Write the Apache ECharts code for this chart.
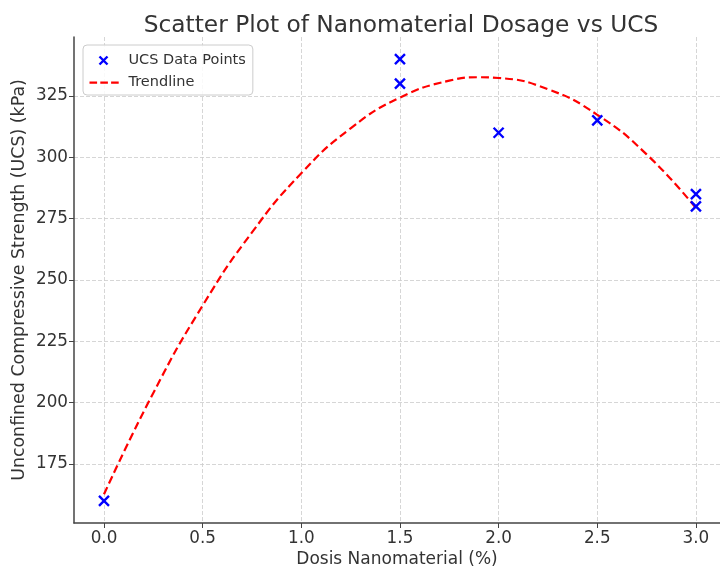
<!DOCTYPE html>
<html>
<head>
<meta charset="utf-8">
<script src="https://cdn.jsdelivr.net/npm/echarts@6/dist/echarts.min.js"></script>
<style>html,body{margin:0;padding:0;background:#fff;}#c{width:720px;height:571px;}</style>
</head>
<body>
<div id="c"></div>
<script>
// Data
const dosage = [0.0, 1.5, 1.5, 2.0, 2.5, 3.0, 3.0];
const ucs = [160, 340, 330, 310, 315, 285, 280];
// Trendline points
const trendX = [0.0, 0.25, 0.5, 0.75, 1.0, 1.25, 1.5, 1.75, 1.9, 2.0, 2.25, 2.5, 2.75, 3.0];
const trendY = [162.7, 204.0, 239.6, 269.4, 293.5, 311.8, 324.3, 331.2, 332.6, 332.3, 327.7, 317.3, 301.2, 279.3];
const xTicks = [0.0, 0.5, 1.0, 1.5, 2.0, 2.5, 3.0];
const yTicks = [175, 200, 225, 250, 275, 300, 325];

const font = 'DejaVu Sans';
const txt = '#333333';
const scatterData = dosage.map((x, i) => [x, ucs[i]]);
const trendData = trendX.map((x, i) => [x, trendY[i]]);
const xMark = 'path://M0,0 L10,10 M10,0 L0,10';
// legend icons: bounding box 34x14 fixed by leading moveTo points
const legendX = 'path://M0,0 M34,14 M10,3 L18,11 M18,3 L10,11';
const legendDash = 'path://M0,0 M34,14 M0,6h7.6v2.2h-7.6z M10.8,6h7.6v2.2h-7.6z M21.6,6h7.6v2.2h-7.6z';

const chart = echarts.init(document.getElementById('c'), null, {renderer: 'canvas'});
chart.setOption({
  animation: false,
  backgroundColor: '#ffffff',
  textStyle: {fontFamily: font},
  title: {
    text: 'Scatter Plot of Nanomaterial Dosage vs UCS',
    left: 396, top: 9, textAlign: 'center',
    textStyle: {fontFamily: font, fontSize: 23.3, fontWeight: 'normal', color: txt}
  },
  legend: {
    orient: 'vertical', left: 83, top: 45,
    backgroundColor: 'rgba(255,255,255,0.85)', borderColor: '#cccccc', borderWidth: 1, borderRadius: 4,
    padding: [6, 7, 5, 4], itemGap: 5, itemWidth: 34, itemHeight: 14,
    textStyle: {fontFamily: font, fontSize: 14.5, color: txt},
    data: [
      {name: 'UCS Data Points', icon: legendX, itemStyle: {color: 'none', borderColor: '#0000ff', borderWidth: 2.4}},
      {name: 'Trendline', icon: legendDash, itemStyle: {color: '#ff0000', borderWidth: 0}, lineStyle: {width: 0, opacity: 0}}
    ]
  },
  grid: {left: 74, top: 37, right: 0, bottom: 48, containLabel: false, outerBoundsMode: 'none'},
  xAxis: {
    type: 'value', min: -0.152, max: 3.122,
    name: 'Dosis Nanomaterial (%)', nameLocation: 'middle', nameGap: 28, nameMoveOverlap: false,
    nameTextStyle: {fontFamily: font, fontSize: 17, color: txt},
    axisLine: {show: true, onZero: false, lineStyle: {color: '#444', width: 1.5}},
    axisTick: {show: true, length: 5, customValues: xTicks, lineStyle: {color: '#444'}},
    axisLabel: {customValues: xTicks, formatter: v => v.toFixed(1), fontFamily: font, fontSize: 16.8, color: txt, margin: 7},
    splitLine: {show: true, lineStyle: {color: '#cccccc', type: [4, 2], width: 0.8}}
  },
  yAxis: {
    type: 'value', min: 151, max: 349,
    name: 'Unconfined Compressive Strength (UCS) (kPa)', nameLocation: 'middle', nameGap: 46, nameMoveOverlap: false,
    nameTextStyle: {fontFamily: font, fontSize: 17.4, color: txt},
    axisLine: {show: true, onZero: false, lineStyle: {color: '#444', width: 1.5}},
    axisTick: {show: true, length: 5, customValues: yTicks, lineStyle: {color: '#444'}},
    axisLabel: {customValues: yTicks, fontFamily: font, fontSize: 16.8, color: txt, margin: 6},
    splitLine: {show: true, lineStyle: {color: '#cccccc', type: [4, 2], width: 0.8}}
  },
  series: [
    {
      name: 'Trendline', type: 'line', data: trendData, smooth: true, showSymbol: false, symbol: 'none',
      z: 2,
      lineStyle: {color: '#ff0000', width: 2.2, type: [8, 4]},
      itemStyle: {color: '#ff0000'}
    },
    {
      name: 'UCS Data Points', type: 'scatter', data: scatterData, symbol: xMark, symbolSize: 10,
      z: 3,
      itemStyle: {color: 'none', borderColor: '#0000ff', borderWidth: 2.4, opacity: 1}
    }
  ]
});
</script>
</body>
</html>
